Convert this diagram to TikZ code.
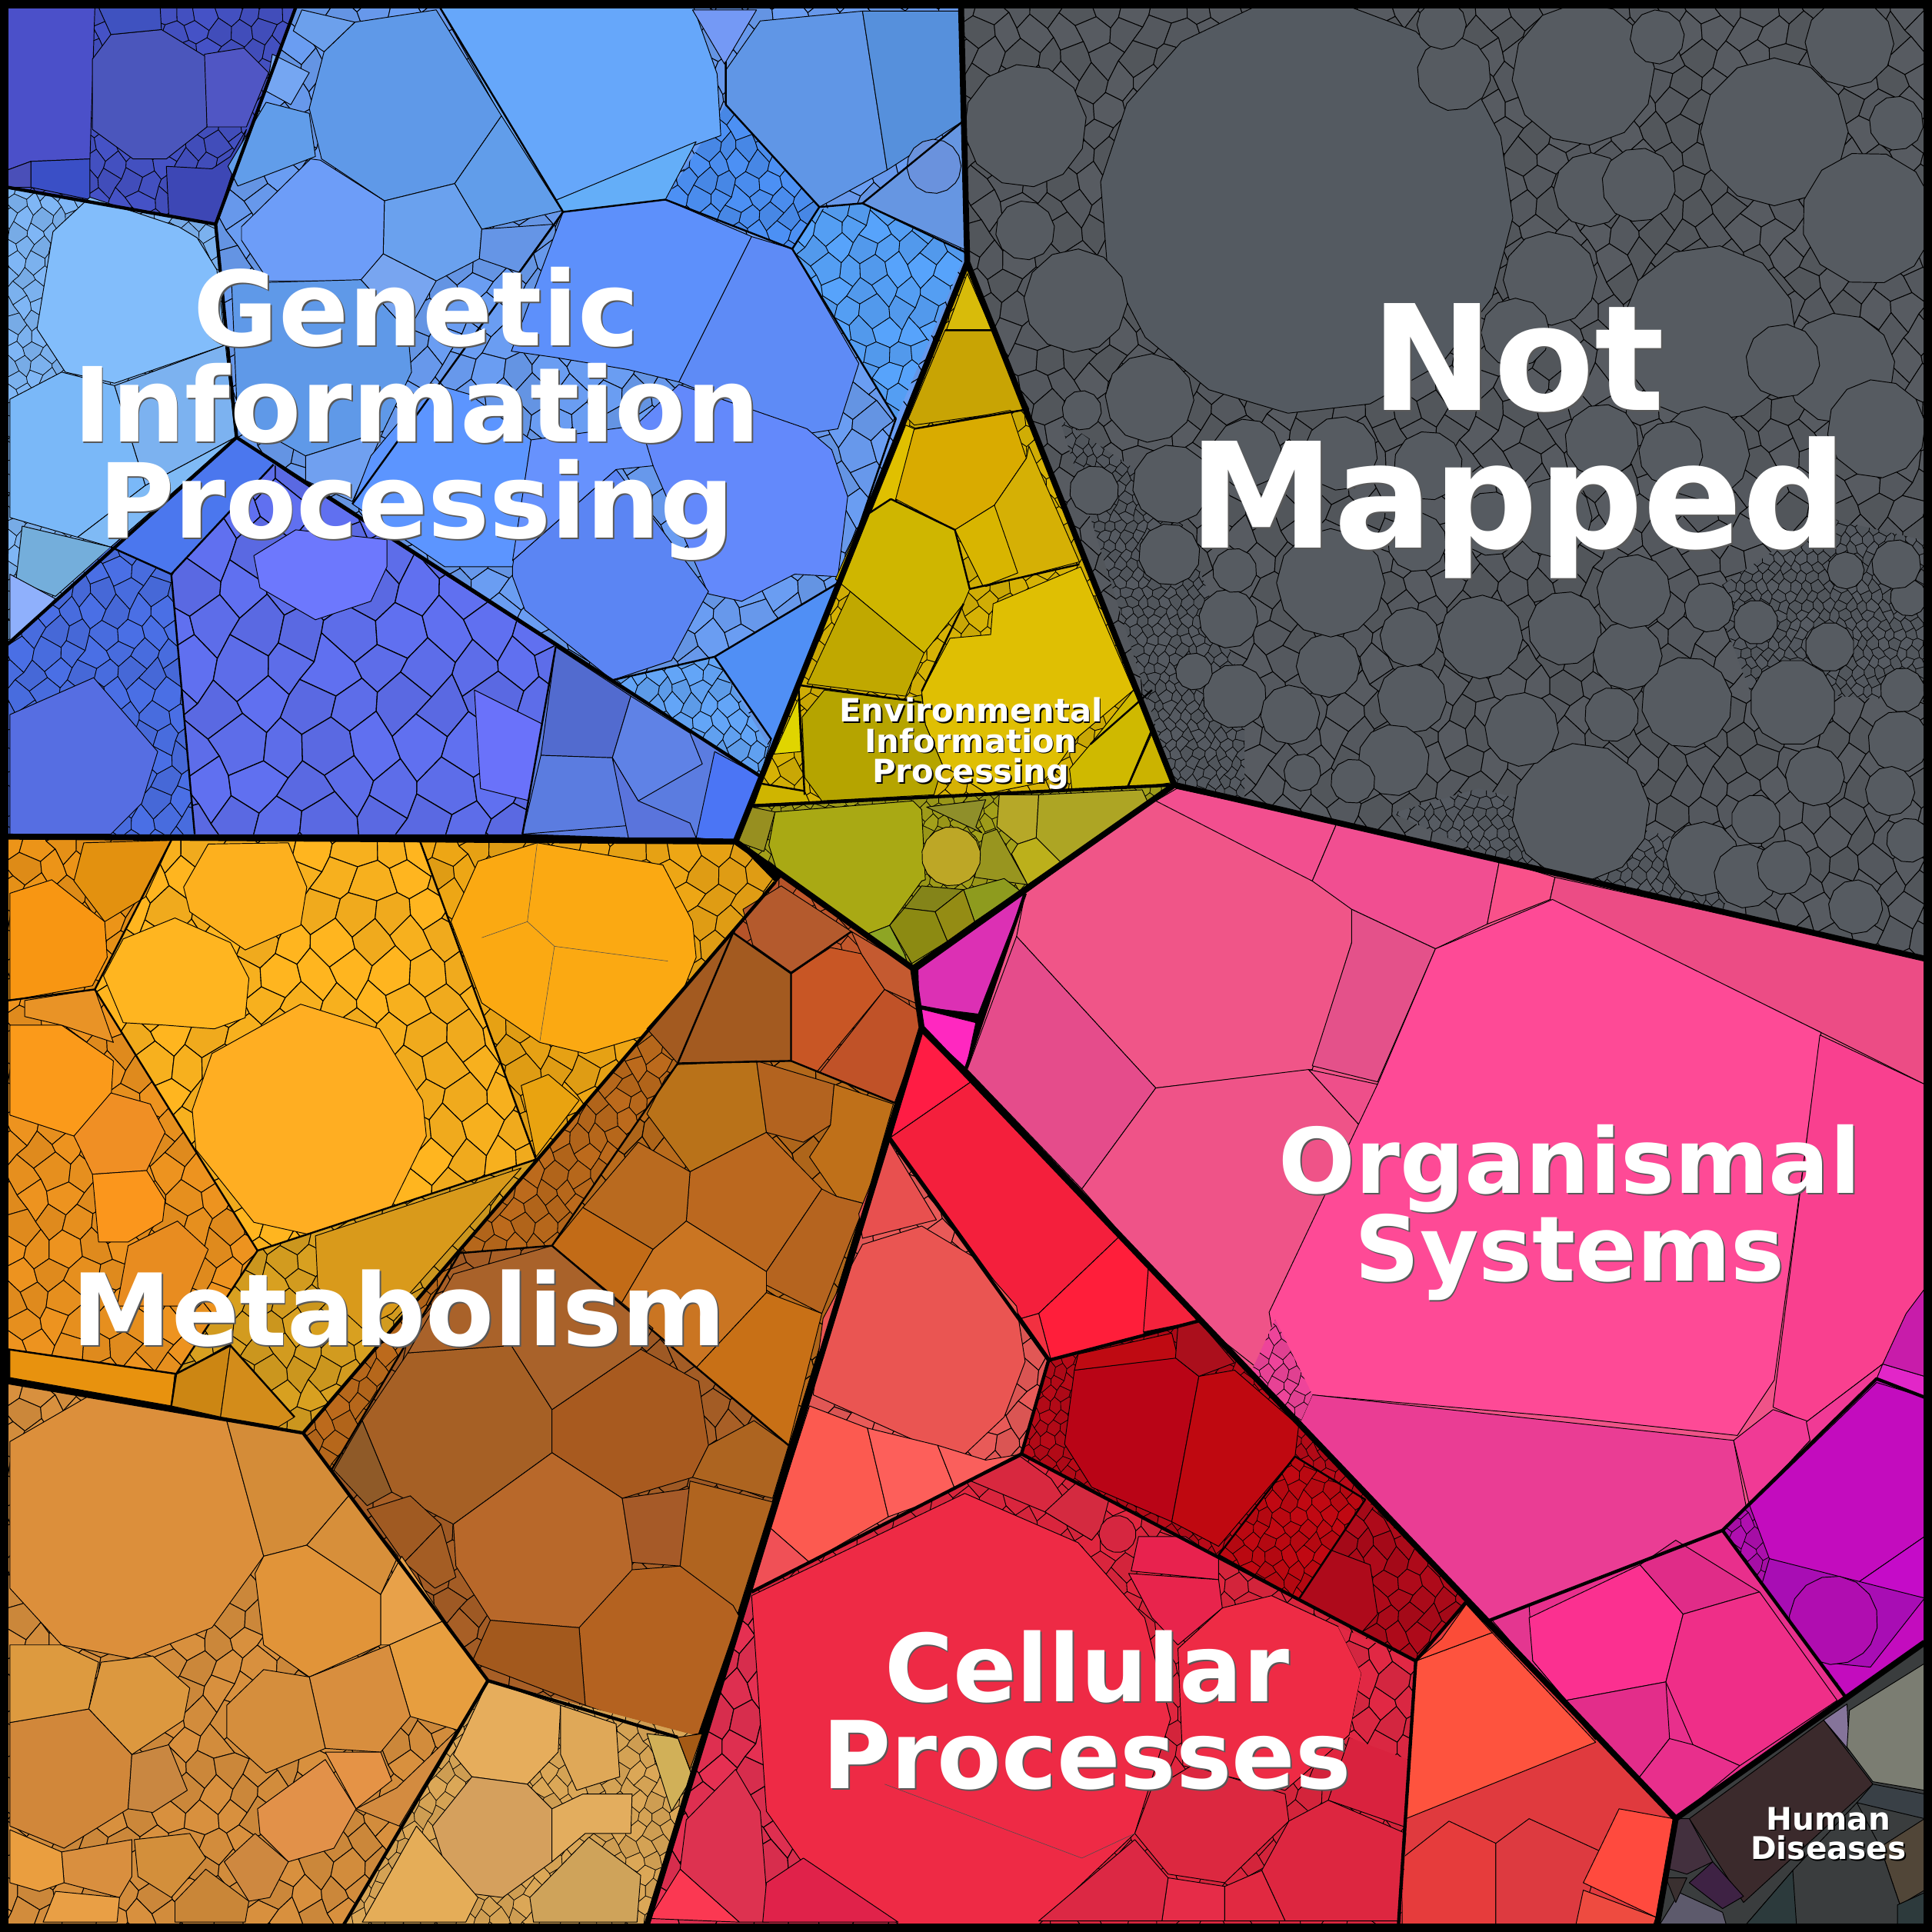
\documentclass[tikz,border=0pt]{standalone}
\usepackage{fontspec}
\setmainfont{DejaVu Sans}
\definecolor{notgrey}{HTML}{565B61}
\newcommand\cell[2]{\definecolor{cc}{HTML}{#1}\filldraw[cell,fill=cc] #2 -- cycle;}
\newcommand\blob[4]{\definecolor{cc}{HTML}{#4}\filldraw[cell,fill=cc] plot[domain=0:345,samples=16,variable=\t] ({#1+#3*cos(\t+#1)},{#2+#3*sin(\t+#1)}) -- cycle;}
\newcount\fr \newcount\fk \newcount\fa \newcount\fb \newcount\fc \newcount\frn \newcount\ncols \newcount\nrows
\newcount\fwu \newcount\fhu \newcount\fxu \newcount\fyu
\def\hs#1{\numexpr(#1)-101*((#1)/101)\relax}
\def\fv#1#2{\the\numexpr\fxu+\fwu*#1+\fwu*\hs{#1*#1*173+#2*#2*97+#1*#2*61+#1*37+#2*89}/130\relax\space\the\numexpr\fyu+\fhu*#2+\fhu*\ifodd\numexpr#1+#2\relax-25\else25\fi/100+\fhu*\hs{#1*#1*71+#2*#2*193+#1*#2*43+#1*83+#2*59}/300\relax}
\def\rgop#1,#2,#3;{#1 #2 #3 rg}
\newcommand\setop[2]{\extractcolorspecs{#2}{\mdl}{\spc}\convertcolorspec{\mdl}{\spc}{rgb}\tmprgb\edef#1{\expandafter\rgop\tmprgb;}}
\makeatletter
\def\foamhex{\fa=\numexpr2*\fk+\ifodd\fr 1\else0\fi\relax
  \fb=\numexpr\fa+1\relax\fc=\numexpr\fa+2\relax
  \edef\hexops{\noexpand\pgfsys@invoke{\ifnum\hs{\fk*\fk*13+\fr*29+\fk*\fr*7}<-15 \opa\else\ifnum\hs{\fk*\fk*13+\fr*29+\fk*\fr*7}<15 \opb\else\opc\fi\fi\space\fv{\fa}{\fr} m \fv{\fb}{\fr} l \fv{\fc}{\fr} l \fv{\fc}{\frn} l \fv{\fb}{\frn} l \fv{\fa}{\frn} l b}}\hexops}
\def\colloop{\ifnum\fk<\ncols\foamhex\advance\fk by 1 \expandafter\colloop\fi}
\def\rowloop{\ifnum\fr<\nrows\fk=0 \frn=\numexpr\fr+1\relax\colloop\advance\fr by 1 \expandafter\rowloop\fi}
\newcommand\foam[7]{\definecolor{fcol}{HTML}{#1}
  \colorlet{fta}{fcol!94!black}\colorlet{ftb}{fcol!97!black}
  \setop\opa{fta}\setop\opb{ftb}\setop\opc{fcol}
  \begin{scope}
    \clip #7 -- cycle;
    \fill[fcol] (#3,#4) rectangle (#5,#6);
    \fwu=\numexpr#2*5\relax\fhu=\numexpr#2*85/10\relax
    \fxu=\numexpr(#3-#2)*10\relax\fyu=\numexpr(#4-#2)*10\relax
    \ncols=\numexpr(#5-#3)/#2+3\relax\nrows=\numexpr(#6-#4)*100/(85*#2)+3\relax
    \edef\foamstart{\noexpand\pgfsys@invoke{q .099626 0 0 -.099626 0 0 cm \the\numexpr(#2+12)/6\relax\space w 1 j 0 G}}\foamstart
    \fr=0 \rowloop
    \pgfsys@invoke{Q}
  \end{scope}}
\makeatother
\tikzset{
  cell/.style={draw=black,line width=.6pt,line join=round},
  hair/.style={draw=black!70,line width=.35pt},
  wall/.style={draw=black,line width=4.8pt,line join=miter},
  midwall/.style={draw=black,line width=2.7pt,line join=round},
  subwall/.style={draw=black,line width=1.5pt,line join=round},
  lab/.style={text=white,inner sep=0pt,align=center},
  labshadow/.style={text=black!65,inner sep=0pt,align=center},
}
\begin{document}
\begin{tikzpicture}[x=1pt,y=-1pt]
\useasboundingbox (0,0) rectangle (1568,1568);
\fill[black] (0,0) rectangle (1568,1568);

\foam{575B61}{24}{780}{0}{1568}{782}{(780,0)--(1568,0)--(1568,782)--(953,637)--(785,213)}
\foam{555A61}{9}{860}{340}{1010}{660}{(860,340)--(950,400)--(1010,560)--(1010,660)--(953,637)}
\foam{565B62}{9}{1390}{420}{1568}{570}{(1390,480)--(1480,420)--(1568,440)--(1568,570)--(1420,560)}
\foam{565B62}{10}{1130}{640}{1400}{745}{(1130,660)--(1200,640)--(1400,690)--(1400,745)--(1220,700)}
\blob{1060}{168}{168}{545A61}
\foreach \bx/\by/\br in {1285/60/58,1440/107/60,1516/177/54,1501/35/36,1387/271/72,1493/299/45,832/102/50,1291/154/30,1258/226/38,873/244/42,933/323/36,832/187/24,1283/659/56,1382/697/30,1455/570/35,1369/570/37,1473/630/24,1308/580/22,1235/592/30,1202/517/34,1270/510/30,1321/532/28,1146/567/28,1131/617/29,1002/565/26,1047/580/24,1078/540/26,1080/473/44,997/502/24,1002/463/18,949/450/25,888/398/20,878/333/16,1144/517/24,1326/480/30,1387/493/20,1425/505/18,1485/525/20,1544/560/18,1549/485/15,1498/463/15,1541/602/25,1425/665/20,1417/711/26,1506/736/22,1549/682/18,1448/704/22,1534/642/20,1098/634/18,1057/627/15,969/545/15,1447/293/30,1382/368/38,1523/348/40,1356/368/26,1300/358/30,1159/378/28,1088/368/30,1012/368/28,951/393/32,1539/458/20,1180/60/30,1230/270/28,1170/20/20,1330/150/30,1345/30/22,1539/100/22,1260/420/32,1210/425/26,1150/440/24}{
  \filldraw[cell,fill=notgrey] plot[domain=0:330,samples=12,variable=\t] ({\bx+\br*cos(\t+\bx)},{\by+\br*sin(\t+\bx)}) -- cycle;
}

\foam{4552C6}{18}{6}{6}{240}{185}{(6,6)--(240,6)--(175,182)--(6,152)}
\cell{4B50C9}{(6,6)--(77,6)--(73,129)--(25,131)--(6,138)}
\cell{3A4FC6}{(25,131)--(73,129)--(73,162)--(25,152)}
\cell{4A4FB8}{(6,138)--(25,131)--(25,152)--(6,152)}
\cell{4B56BC}{(75,48)--(90,28)--(131,24)--(167,46)--(168,103)--(135,129)--(108,129)--(75,105)}
\cell{5056C4}{(166,44)--(198,39)--(218,59)--(200,103)--(168,103)}
\cell{3F52C0}{(80,6)--(130,6)--(131,24)--(90,28)}
\cell{3D47B5}{(135,135)--(172,137)--(187,127)--(200,105)--(175,182)--(137,175)}

\foam{7FB6F5}{14}{6}{150}{195}{530}{(6,152)--(175,182)--(192,355)--(6,523)}
\cell{82BDFB}{(43,188)--(73,160)--(145,184)--(160,193)--(176,219)--(183,280)--(93,311)--(53,302)--(30,267)}
\cell{7AB8F8}{(8,324)--(50,302)--(93,313)--(118,394)--(63,436)--(8,420)}
\cell{7CB2F0}{(93,313)--(183,280)--(191,355)--(118,394)}
\cell{7FBAF5}{(118,394)--(191,355)--(90,444)--(63,436)}
\cell{74AEDB}{(18,427)--(90,444)--(45,484)--(13,471)}
\cell{8FB0FC}{(8,466)--(45,486)--(8,525)}

\foam{6A9DF2}{26}{175}{6}{785}{640}{(175,182)--(240,6)--(780,6)--(785,213)--(617,630)--(192,355)}
\foam{4C90F4}{17}{540}{85}{670}{205}{(589,85)--(665,168)--(643,202)--(540,162)}
\foam{57A3FB}{20}{640}{95}{785}{345}{(665,170)--(700,165)--(784,205)--(727,340)--(643,202)}
\foam{63A5F7}{15}{495}{530}{630}{635}{(497,552)--(580,533)--(625,608)--(617,630)}
\cell{66A7FA}{(357,6)--(563,6)--(582,60)--(585,110)--(563,118)--(450,163)--(407,95)}
\cell{64AEF8}{(450,163)--(565,115)--(540,162)--(457,172)}
\cell{5F99E8}{(288,18)--(354,8)--(407,94)--(369,149)--(312,163)--(261,129)--(251,88)--(263,42)}
\cell{6CA0EC}{(245,8)--(288,18)--(263,42)--(238,25)}
\cell{619DEA}{(369,149)--(407,94)--(456,171)--(391,186)}
\cell{6AA1EE}{(312,163)--(369,149)--(391,186)--(389,210)--(354,228)--(311,206)}
\cell{6D9DF8}{(196,184)--(252,129)--(260,130)--(312,163)--(311,206)--(293,228)--(218,228)--(196,195)}
\cell{6595E6}{(391,186)--(449,182)--(421,221)--(389,210)}
\cell{619DEA}{(216,83)--(251,92)--(256,127)--(193,151)--(185,135)}
\cell{75A6F2}{(221,44)--(251,59)--(236,85)--(216,74)}
\cell{5F99E8}{(188,230)--(293,227)--(331,269)--(334,302)--(311,350)--(248,370)--(221,355)--(193,346)}
\cell{78A5F0}{(293,227)--(311,206)--(354,228)--(331,269)}
\cell{70A0F0}{(248,370)--(311,350)--(286,407)--(248,390)}
\cell{6096E6}{(589,57)--(617,17)--(700,9)--(720,138)--(665,168)--(589,85)}
\cell{5690DC}{(700,9)--(780,9)--(782,98)--(720,138)}
\cell{7499F5}{(562,8)--(614,8)--(588,52)}
\cell{6696E2}{(700,165)--(782,98)--(784,203)}
\blob{758}{135}{22}{6A92DD}
\cell{5D90FB}{(457,172)--(540,162)--(610,192)--(551,310)--(510,300)--(450,290)--(415,285)}
\cell{5E8BF6}{(610,192)--(643,202)--(697,295)--(680,348)--(655,352)--(551,310)}
\cell{6389FB}{(655,348)--(675,365)--(688,403)--(680,468)--(645,466)--(602,488)--(575,482)--(530,378)--(516,345)--(551,312)}
\cell{5B85F3}{(416,455)--(500,381)--(575,480)--(562,504)--(545,536)--(497,552)--(426,495)--(416,468)}
\cell{5C95FF}{(350,311)--(301,370)--(286,409)--(361,460)--(416,460)--(431,357)--(381,320)}
\cell{6792FD}{(431,357)--(520,345)--(530,378)--(500,381)--(416,455)}
\cell{508FF5}{(682,472)--(580,533)--(626,600)--(617,630)}

\foam{4A6FE5}{20}{6}{440}{165}{680}{(6,523)--(90,444)--(139,466)--(158,677)--(6,677)}
\cell{566EE2}{(8,580)--(76,550)--(128,610)--(115,652)--(90,677)--(8,677)}
\cell{4B77EE}{(192,355)--(250,395)--(139,466)--(90,444)}
\foam{6070F0}{38}{135}{370}{455}{680}{(139,466)--(222,377)--(451,525)--(424,677)--(158,677)}
\cell{6D78FD}{(206,451)--(240,430)--(314,438)--(314,460)--(301,488)--(256,503)--(211,477)}
\cell{6A72FA}{(385,560)--(445,590)--(430,650)--(390,640)}
\cell{5B7CE0}{(451,525)--(617,630)--(597,683)--(424,677)}
\cell{526BCF}{(451,525)--(512,565)--(497,615)--(439,613)}
\cell{5B7CE0}{(439,613)--(497,615)--(510,670)--(424,677)}
\cell{5F82E6}{(512,565)--(560,595)--(570,620)--(518,650)--(497,615)}
\cell{5A74DC}{(497,615)--(518,650)--(560,668)--(565,680)--(510,680)}
\cell{4B75F5}{(580,610)--(617,630)--(597,683)--(565,680)}

\foam{D6B205}{16}{610}{213}{955}{655}{(785,213)--(953,637)--(611,654)}
\cell{D8BB0A}{(785,222)--(805,268)--(768,268)}
\cell{C8A404}{(767,268)--(805,268)--(835,332)--(742,345)--(737,340)}
\cell{D9AB00}{(742,348)--(820,333)--(833,372)--(807,410)--(775,430)--(723,403)}
\cell{D5B005}{(807,410)--(833,372)--(835,362)--(876,456)--(800,476)--(787,433)}
\cell{D8B500}{(775,430)--(807,410)--(826,465)--(798,476)}
\cell{E0C000}{(735,345)--(742,348)--(723,420)--(705,420)}
\cell{CFB600}{(700,420)--(723,405)--(775,430)--(787,478)--(782,490)--(750,530)--(690,480)--(678,470)}
\cell{C0A800}{(655,555)--(690,480)--(750,530)--(735,565)}
\cell{DFBF03}{(771,518)--(804,515)--(806,490)--(877,460)--(920,560)--(875,598)--(860,619)--(846,635)--(801,644)--(765,621)--(751,588)--(748,561)}
\cell{B5A400}{(651,582)--(669,560)--(730,568)--(748,564)--(751,588)--(765,621)--(758,645)--(667,650)--(653,631)}
\cell{E0D500}{(648,567)--(650,610)--(628,612)}
\cell{CFB500}{(618,636)--(653,642)--(657,651)--(612,653)}
\cell{CFB900}{(920,560)--(935,592)--(915,639)--(870,641)--(868,624)--(885,604)}
\cell{CBB300}{(935,595)--(953,635)--(915,640)}

\foam{A3A01A}{11}{597}{637}{955}{790}{(611,654)--(953,637)--(741,786)--(597,683)}
\cell{A9A914}{(629,659)--(741,650)--(748,657)--(751,714)--(748,715)--(722,751)--(704,758)--(630,705)--(624,686)}
\cell{978F20}{(610,655)--(629,659)--(620,691)--(598,683)}
\cell{98951F}{(809,673)--(834,718)--(791,712)--(798,677)}
\cell{8F8F2A}{(752,655)--(800,649)--(792,671)--(797,676)}
\cell{B6A828}{(811,645)--(843,645)--(841,680)--(826,685)--(809,671)}
\cell{ADA524}{(843,645)--(927,641)--(932,652)--(861,700)--(841,680)}
\cell{BCB01B}{(826,685)--(841,680)--(861,700)--(834,718)--(821,693)}
\cell{8E9B1E}{(782,722)--(815,713)--(828,723)--(791,748)}
\cell{848419}{(748,719)--(782,722)--(759,740)--(734,737)}
\cell{8C8A12}{(722,751)--(734,737)--(759,740)--(769,764)--(740,782)}
\cell{948C14}{(759,740)--(782,722)--(791,748)--(769,764)}
\cell{8EA524}{(704,758)--(722,751)--(734,774)--(736,780)}
\blob{772}{695}{24}{BDA726}

\cell{DC30B4}{(745,787)--(832,725)--(794,823)--(746,817)}
\cell{FF28C0}{(748,819)--(792,830)--(784,867)--(748,834)}

\foam{FFB51F}{30}{77}{680}{435}{1015}{(139,682)--(341,683)--(435,941)--(209,1015)--(77,803)}
\foam{EDA615}{24}{341}{683}{632}{945}{(341,683)--(597,683)--(629,716)--(435,941)}
\foam{EC9418}{24}{6}{679}{139}{812}{(6,679)--(139,682)--(77,803)--(6,812)}
\foam{ED931F}{24}{6}{803}{209}{1115}{(6,812)--(77,803)--(209,1015)--(143,1115)--(6,1095)}
\cell{FFAE22}{(156,901)--(172,855)--(244,815)--(308,835)--(343,893)--(346,922)--(318,979)--(256,1003)--(206,992)--(159,933)}
\cell{FFB520}{(84,792)--(100,762)--(142,745)--(187,765)--(202,794)--(199,826)--(174,835)--(134,832)--(100,830)}
\cell{FDB01E}{(149,720)--(169,685)--(234,684)--(249,720)--(244,751)--(199,771)--(154,740)}
\cell{FBA912}{(366,748)--(388,699)--(436,684)--(538,702)--(562,748)--(565,777)--(542,835)--(475,855)--(438,846)--(391,814)}
\draw[hair] (436,684)--(428,748)--(391,761) (428,748)--(450,768)--(542,780) (450,768)--(438,846);
\cell{E9A310}{(423,881)--(445,872)--(470,893)--(435,939)}
\cell{F89612}{(8,725)--(42,714)--(85,748)--(87,777)--(75,800)--(8,812)}
\cell{FB9A1A}{(8,832)--(50,832)--(92,861)--(90,893)--(60,922)--(8,905)}
\cell{E99326}{(20,812)--(77,803)--(92,846)--(50,832)--(20,825)}
\cell{F08F24}{(60,922)--(90,887)--(122,896)--(134,919)--(119,950)--(75,953)}
\cell{FB961C}{(75,953)--(119,950)--(134,974)--(132,991)--(104,1008)--(80,1008)}
\cell{E88C20}{(104,1011)--(144,991)--(169,1014)--(150,1060)--(95,1060)}
\cell{E3910F}{(68,684)--(139,682)--(118,728)--(85,748)--(60,715)}
\foam{D8A020}{22}{143}{941}{435}{1165}{(209,1015)--(435,941)--(246,1163)--(226,1158)--(187,1090)--(143,1115)}
\cell{D99A1B}{(256,1003)--(423,948)--(318,1066)--(294,1078)--(258,1045)}
\cell{E8920E}{(8,1095)--(142,1115)--(139,1141)--(8,1118)}
\cell{CC8613}{(142,1115)--(187,1092)--(179,1150)--(139,1141)}
\cell{D38C1A}{(187,1092)--(239,1150)--(226,1158)--(179,1150)}

\foam{BC6A1C}{17}{247}{716}{630}{1195}{(595,757)--(550,863)--(448,1011)--(373,1017)--(269,1193)--(247,1163)--(629,716)}
\foam{C2582C}{16}{595}{712}{748}{895}{(634,712)--(741,786)--(748,834)--(726,895)--(642,861)--(642,790)--(595,757)}
\cell{A35A20}{(550,863)--(642,861)--(642,790)--(595,757)--(525,835)}
\cell{B45A2D}{(603,738)--(634,719)--(691,756)--(642,789)--(611,767)}
\cell{C85625}{(642,790)--(674,769)--(699,774)--(718,803)--(662,871)--(642,861)}
\cell{C05228}{(718,803)--(745,820)--(748,834)--(726,895)--(664,872)}
\cell{C45A30}{(691,756)--(741,786)--(745,815)--(718,803)--(699,774)}
\foam{B96B1C}{28}{448}{861}{728}{1175}{(550,863)--(642,861)--(726,895)--(640,1173)--(448,1011)}
\cell{B97219}{(540,875)--(550,864)--(614,861)--(622,919)--(560,951)--(525,904)}
\cell{B3631F}{(614,861)--(677,880)--(674,913)--(652,927)--(622,919)}
\cell{BF7019}{(677,880)--(725,896)--(702,977)--(679,971)--(657,939)--(674,913)}
\cell{BB681F}{(560,951)--(622,919)--(667,965)--(622,1032)--(557,991)}
\cell{B5641F}{(679,971)--(702,977)--(667,1066)--(622,1043)--(622,1032)--(667,965)}
\cell{B96A1F}{(518,927)--(560,951)--(557,991)--(530,1014)--(473,980)}
\cell{C26B17}{(473,980)--(530,1014)--(503,1060)--(448,1011)}
\cell{CA7522}{(530,1014)--(557,991)--(622,1032)--(622,1049)--(565,1110)--(503,1060)}
\cell{C87016}{(622,1049)--(667,1066)--(640,1173)--(565,1110)}
\foam{A85F26}{24}{269}{1011}{645}{1412}{(373,1017)--(448,1011)--(640,1173)--(605,1290)--(550,1410)--(396,1364)--(269,1193)}
\cell{A66025}{(294,1153)--(331,1098)--(415,1092)--(448,1144)--(448,1179)--(368,1237)--(318,1211)}
\cell{A85A1F}{(448,1144)--(520,1095)--(567,1121)--(575,1173)--(562,1199)--(505,1216)--(448,1179)}
\cell{B8682A}{(368,1237)--(448,1179)--(505,1216)--(513,1268)--(513,1277)--(470,1321)--(398,1315)--(370,1271)}
\cell{A65A28}{(505,1216)--(560,1208)--(552,1271)--(513,1268)}
\cell{B0641F}{(560,1202)--(627,1219)--(597,1315)--(552,1271)}
\cell{AD6420}{(575,1173)--(612,1153)--(640,1173)--(627,1216)--(562,1199)}
\cell{B46220}{(513,1274)--(552,1271)--(595,1303)--(600,1312)--(567,1407)--(550,1410)--(475,1384)--(470,1321)}
\cell{A3591D}{(398,1315)--(470,1321)--(475,1384)--(443,1372)--(383,1349)}
\cell{A9622A}{(331,1098)--(368,1034)--(448,1011)--(530,1078)--(520,1095)--(448,1144)--(415,1092)}
\cell{8F5A28}{(294,1153)--(318,1211)--(298,1222)--(271,1193)}
\cell{A05A22}{(298,1225)--(333,1214)--(358,1237)--(328,1268)}
\cell{A45D24}{(328,1268)--(358,1237)--(370,1280)--(353,1289)}

\foam{D8903E}{24}{6}{1122}{396}{1568}{(6,1122)--(247,1163)--(396,1364)--(279,1562)--(6,1562)}
\cell{DC8F3B}{(8,1170)--(72,1133)--(184,1153)--(214,1263)--(172,1321)--(107,1346)--(50,1335)--(8,1289)}
\cell{D48C38}{(184,1153)--(247,1163)--(283,1214)--(249,1254)--(214,1263)}
\cell{E19439}{(214,1263)--(249,1254)--(309,1294)--(309,1335)--(251,1361)--(214,1335)--(207,1277)}
\cell{D78F3A}{(249,1254)--(283,1214)--(323,1263)--(309,1294)}
\cell{E8A149}{(309,1294)--(326,1263)--(361,1315)--(316,1335)--(309,1335)}
\cell{E79E3F}{(316,1335)--(361,1315)--(396,1364)--(371,1404)--(333,1393)}
\cell{D88E3E}{(251,1361)--(316,1335)--(333,1393)--(309,1422)--(264,1419)}
\cell{D58E3D}{(184,1384)--(214,1355)--(251,1361)--(264,1419)--(216,1439)--(184,1410)}
\cell{DC983F}{(72,1387)--(82,1349)--(124,1344)--(154,1370)--(149,1396)--(107,1424)}
\cell{D1873A}{(8,1398)--(72,1387)--(107,1424)--(104,1468)--(52,1500)--(8,1482)}
\cell{DD9A3F}{(8,1335)--(50,1335)--(80,1349)--(72,1387)--(8,1398)}
\cell{E29149}{(209,1468)--(264,1428)--(289,1468)--(271,1500)--(234,1511)--(211,1488)}
\cell{C98741}{(107,1424)--(137,1416)--(152,1453)--(124,1471)--(104,1468)}
\cell{E59346}{(264,1422)--(309,1422)--(318,1445)--(289,1468)}
\cell{D38B40}{(322,1451)--(371,1404)--(324,1482)--(289,1468)}
\cell{D38F3B}{(109,1493)--(154,1488)--(167,1508)--(139,1540)--(112,1523)}
\cell{CE8840}{(182,1511)--(207,1488)--(234,1511)--(219,1540)--(202,1543)}
\cell{C98638}{(142,1543)--(167,1517)--(202,1543)--(199,1560)--(142,1560)}
\cell{D98F3F}{(50,1503)--(107,1493)--(107,1523)--(97,1540)--(52,1528)}
\cell{EA9E3F}{(8,1485)--(50,1503)--(52,1528)--(32,1535)--(8,1528)}
\cell{E99F45}{(45,1535)--(97,1540)--(95,1560)--(35,1560)}

\foam{DBA757}{14}{279}{1364}{570}{1568}{(396,1364)--(570,1410)--(525,1562)--(279,1562)}
\cell{E6AD5C}{(368,1424)--(396,1364)--(455,1384)--(453,1422)--(428,1448)--(383,1442)}
\cell{D5A05D}{(351,1482)--(383,1442)--(428,1448)--(448,1468)--(448,1511)--(408,1540)--(368,1535)}
\cell{E5AD58}{(294,1560)--(338,1482)--(388,1540)--(378,1560)}
\cell{CFA35A}{(430,1540)--(478,1491)--(520,1522)--(517,1560)--(433,1560)}
\cell{DFA858}{(455,1384)--(500,1399)--(503,1442)--(468,1453)--(455,1424)}
\cell{E3AD5E}{(448,1468)--(473,1456)--(513,1456)--(512,1488)--(475,1488)--(448,1511)}
\cell{D1B058}{(525,1407)--(550,1410)--(562,1442)--(545,1470)}
\cell{A55A15}{(550,1410)--(570,1407)--(560,1436)}

\cell{FF1C44}{(748,838)--(788,878)--(723,923)}
\cell{F41F3C}{(788,878)--(908,1004)--(843,1066)--(829,1070)--(723,923)}
\cell{FF1E3A}{(908,1004)--(932,1029)--(928,1086)--(875,1100)--(853,1104)--(843,1066)}
\cell{F4223C}{(932,1029)--(973,1072)--(928,1081)}
\cell{F23040}{(829,1070)--(843,1066)--(853,1104)}
\foam{E85A58}{22}{610}{923}{855}{1295}{(721,923)--(851,1104)--(829,1180)--(610,1292)}
\cell{E8504F}{(721,925)--(760,990)--(700,1005)--(697,985)}
\cell{EA5552}{(660,1132)--(668,1070)--(700,1010)--(748,995)--(790,1020)--(825,1060)--(832,1105)--(815,1150)--(778,1185)}
\cell{FC5A50}{(657,1141)--(704,1159)--(721,1231)--(657,1268)--(625,1240)}
\cell{FD5F5A}{(704,1159)--(761,1173)--(776,1211)--(721,1231)}
\cell{FA5F5C}{(761,1173)--(800,1185)--(830,1180)--(776,1211)}
\cell{F05056}{(625,1240)--(657,1268)--(610,1292)}
\foam{B80A18}{11}{829}{1072}{1195}{1350}{(851,1104)--(973,1072)--(1190,1300)--(1149,1348)--(829,1180)}
\cell{B90416}{(872,1112)--(954,1102)--(973,1117)--(951,1235)--(886,1207)--(864,1172)}
\cell{BF0810}{(973,1117)--(1002,1112)--(1054,1157)--(1051,1182)--(989,1255)--(951,1235)}
\cell{BF0A12}{(875,1099)--(951,1082)--(956,1102)--(872,1112)}
\cell{AB0F1C}{(956,1076)--(973,1072)--(1002,1106)--(973,1117)--(954,1102)}
\foam{C00812}{13}{989}{1182}{1108}{1298}{(1051,1182)--(1108,1217)--(1054,1298)--(989,1262)}
\foam{AE0A1A}{18}{1054}{1217}{1190}{1348}{(1108,1217)--(1190,1300)--(1149,1348)--(1054,1298)}
\cell{AE0A1B}{(1054,1298)--(1080,1258)--(1112,1270)--(1118,1310)--(1105,1325)}

\cell{E03A3E}{(1149,1348)--(1190,1302)--(1360,1476)--(1345,1562)--(1135,1562)}
\cell{FE533E}{(1149,1348)--(1211,1325)--(1295,1414)--(1141,1476)}
\cell{FB4C38}{(1149,1348)--(1170,1330)--(1190,1302)--(1211,1325)}
\cell{E63C3C}{(1138,1508)--(1176,1478)--(1214,1496)--(1214,1562)--(1138,1562)}
\cell{DD3A40}{(1214,1496)--(1241,1476)--(1300,1503)--(1282,1562)--(1214,1562)}
\cell{FF4A3E}{(1314,1468)--(1358,1476)--(1344,1556)--(1285,1528)}
\cell{EE4B40}{(1285,1534)--(1344,1556)--(1342,1562)--(1279,1562)}

\foam{E0263F}{20}{525}{1180}{1150}{1568}{(610,1292)--(830,1180)--(1149,1348)--(1137,1562)--(525,1562)}
\foam{E53052}{28}{525}{1292}{730}{1568}{(610,1292)--(622,1470)--(650,1510)--(730,1562)--(525,1562)}
\cell{EE2A45}{(610,1295)--(783,1212)--(875,1252)--(929,1313)--(950,1395)--(921,1488)--(843,1562)--(730,1562)--(650,1510)--(622,1470)}
\cell{EE2B45}{(956,1338)--(992,1305)--(1032,1295)--(1086,1320)--(1105,1358)--(1095,1408)--(1043,1453)--(960,1433)}
\cell{DC2840}{(934,1453)--(967,1433)--(1043,1456)--(1046,1478)--(994,1528)--(948,1521)--(921,1488)}
\cell{DD2640}{(1046,1478)--(1078,1461)--(1141,1488)--(1135,1559)--(1043,1559)--(1024,1518)}
\cell{D9223E}{(1095,1410)--(1127,1418)--(1143,1428)--(1141,1483)--(1078,1461)}
\cell{E62C48}{(948,1524)--(994,1531)--(994,1559)--(943,1559)}
\cell{E12941}{(994,1531)--(1024,1518)--(1043,1559)--(994,1559)}
\cell{DC2844}{(921,1493)--(948,1524)--(943,1559)--(843,1559)}
\cell{D8283F}{(788,1202)--(848,1227)--(886,1250)--(853,1200)--(828,1182)}
\cell{D42A40}{(848,1227)--(875,1202)--(900,1217)--(894,1240)--(886,1250)}
\blob{907}{1245}{15}{D62640}
\cell{E8224E}{(918,1275)--(924,1247)--(962,1247)--(989,1265)--(989,1282)}
\cell{E8244C}{(916,1277)--(989,1282)--(992,1305)--(956,1335)--(935,1313)}
\foam{E12844}{22}{1086}{1320}{1150}{1430}{(1086,1320)--(1149,1348)--(1143,1428)--(1095,1410)--(1105,1358)}
\cell{DD3250}{(557,1477)--(597,1436)--(617,1470)--(624,1560)--(600,1560)--(552,1517)}
\cell{FB3852}{(527,1557)--(552,1517)--(600,1560)}
\cell{E0224A}{(652,1508)--(729,1560)--(619,1560)--(622,1528)}
\draw[hair] (718,1448)--(878,1508) (921,1488)--(878,1508);

\cell{EF5388}{(953,637)--(1562,778)--(1562,1333)--(1360,1476)--(784,867)--(832,725)}
\cell{F05588}{(825,760)--(832,725)--(953,637)--(1080,720)--(1098,738)--(1097,765)--(1065,868)--(938,883)}
\cell{F24F8F}{(955,640)--(1085,668)--(1065,715)--(938,650)}
\cell{F14E91}{(1085,668)--(1217,698)--(1207,750)--(1165,770)--(1097,738)--(1065,715)}
\cell{F9518A}{(1217,698)--(1262,712)--(1258,730)--(1207,750)}
\cell{EC4C85}{(1262,712)--(1562,778)--(1562,880)--(1478,838)--(1258,730)}
\cell{E4518A}{(1065,865)--(1118,878)--(1165,770)--(1097,738)--(1097,765)}
\cell{E54C8B}{(825,760)--(938,883)--(878,965)--(785,868)}
\cell{EF5388}{(938,883)--(1062,868)--(1105,915)--(1020,1110)--(972,1072)--(878,965)}
\cell{EE4F8A}{(1062,868)--(1118,880)--(1105,915)}
\cell{FE4A96}{(1165,770)--(1260,730)--(1478,838)--(1440,1120)--(1410,1165)--(1270,1150)--(1063,1132)--(1035,1095)--(1030,1065)--(1118,880)}
\cell{F9408F}{(1477,840)--(1562,880)--(1562,1046)--(1528,1107)--(1466,1154)--(1439,1142)}
\cell{EA3D94}{(1065,1132)--(1407,1169)--(1417,1222)--(1398,1242)--(1209,1315)--(1054,1157)}
\cell{F03A95}{(1407,1169)--(1439,1144)--(1469,1154)--(1469,1169)--(1420,1222)}
\foam{EE449A}{12}{1016}{1071}{1066}{1158}{(1016,1112)--(1035,1071)--(1065,1132)--(1054,1157)}
\cell{F03A95}{(1466,1154)--(1528,1107)--(1523,1122)--(1420,1222)--(1469,1169)}
\cell{C30CBE}{(1398,1242)--(1523,1119)--(1562,1134)--(1562,1333)--(1499,1379)}
\foam{B00FB0}{13}{1398}{1222}{1500}{1380}{(1398,1242)--(1420,1222)--(1436,1265)--(1428,1292)--(1470,1350)--(1499,1376)}
\cell{C30CBE}{(1420,1222)--(1523,1122)--(1562,1134)--(1562,1247)--(1507,1285)--(1436,1265)}
\cell{C50BC8}{(1507,1285)--(1562,1247)--(1562,1297)}
\cell{A80DB4}{(1436,1265)--(1562,1297)--(1518,1353)--(1488,1350)--(1428,1292)}
\blob{1488}{1315}{36}{B00DB0}
\cell{E226C8}{(1523,1119)--(1528,1107)--(1562,1117)--(1562,1134)}
\cell{C81CAA}{(1528,1107)--(1547,1066)--(1562,1046)--(1562,1117)}
\cell{E82F8C}{(1209,1315)--(1398,1242)--(1499,1379)--(1360,1476)}
\cell{E43690}{(1211,1315)--(1241,1303)--(1244,1348)--(1271,1380)--(1295,1412)}
\cell{FB3090}{(1241,1313)--(1331,1270)--(1366,1310)--(1352,1365)--(1271,1380)--(1244,1348)}
\cell{E02C88}{(1331,1270)--(1360,1250)--(1428,1292)--(1366,1310)}
\cell{EF2E88}{(1366,1310)--(1428,1292)--(1491,1380)--(1412,1433)--(1374,1416)--(1352,1365)}
\cell{E32D8A}{(1271,1380)--(1352,1365)--(1355,1411)--(1330,1443)}
\cell{E82F8C}{(1330,1443)--(1355,1411)--(1374,1416)--(1412,1433)--(1360,1476)}

\cell{3A3D3E}{(1360,1476)--(1562,1333)--(1562,1562)--(1345,1562)}
\cell{3B2A2C}{(1480,1396)--(1520,1448)--(1415,1544)--(1371,1476)}
\cell{85749A}{(1480,1396)--(1499,1383)--(1501,1421)}
\cell{7B7D72}{(1501,1388)--(1562,1350)--(1562,1453)--(1520,1446)--(1499,1418)}
\cell{394046}{(1520,1448)--(1562,1456)--(1562,1476)--(1507,1463)}
\cell{514638}{(1526,1499)--(1562,1476)--(1562,1534)--(1542,1546)}
\cell{3A3D3E}{(1507,1463)--(1526,1499)--(1542,1546)--(1540,1562)--(1417,1562)--(1455,1518)}
\cell{2D3A3C}{(1540,1546)--(1562,1536)--(1562,1562)--(1540,1562)}
\cell{2C3A3C}{(1455,1518)--(1458,1562)--(1417,1562)}
\cell{43303E}{(1360,1476)--(1371,1476)--(1390,1511)--(1369,1521)--(1352,1516)}
\cell{3E2244}{(1390,1511)--(1415,1539)--(1398,1549)--(1371,1528)}
\cell{5D5A6C}{(1347,1562)--(1363,1536)--(1398,1552)--(1401,1562)}
\cell{3A3030}{(1352,1524)--(1369,1524)--(1360,1544)}

\draw[subwall] (357,6)--(457,172)--(540,162)--(643,202)--(727,340)--(682,472)--(580,533)--(497,552) (457,172)--(286,409) (589,85)--(589,50) (589,85)--(665,168)--(643,202) (665,168)--(700,165)--(784,205) (700,165)--(782,98) (580,533)--(626,600) (90,444)--(139,466)--(158,677) (139,466)--(222,377) (451,525)--(424,677);
\draw[subwall] (139,682)--(77,803)--(209,1015)--(435,941)--(341,683) (6,812)--(77,803) (143,1115)--(209,1015) (6,1095)--(143,1115)--(187,1092)--(239,1150) (143,1115)--(139,1141);
\draw[subwall] (595,757)--(550,863)--(448,1011)--(640,1173) (448,1011)--(373,1017)--(269,1193) (550,863)--(642,861)--(726,895) (642,861)--(642,790)--(595,757) (642,790)--(691,756);
\draw[subwall] (767,268)--(805,268) (742,348)--(835,332) (723,405)--(775,430)--(787,478)--(876,458) (700,420)--(723,405) (782,490)--(748,561) (648,556)--(748,570) (648,556)--(653,645) (618,636)--(653,642) (885,604)--(935,560) (935,592)--(915,639);
\draw[subwall] (1051,1182)--(1108,1217)--(1054,1298)--(989,1262)--(1051,1182);
\draw[midwall] (611,654)--(953,637) (832,725)--(784,867) (746,817)--(794,826) (240,6)--(175,182)--(6,152) (175,182)--(192,355) (6,523)--(192,355)--(617,630) (629,716)--(246,1163) (6,1122)--(246,1163)--(396,1364)--(279,1562) (396,1364)--(550,1410) (721,923)--(851,1104)--(829,1180)--(610,1292) (851,1104)--(973,1072) (829,1180)--(1149,1348)--(1190,1300) (1149,1348)--(1135,1562) (1209,1315)--(1398,1242)--(1523,1119)--(1562,1134) (1398,1242)--(1499,1379);
\draw[wall] (780,6)--(785,213)--(953,637)--(1562,778) (785,213)--(597,683)--(6,679) (597,683)--(741,786)--(953,637) (741,786)--(748,834)--(525,1562) (748,834)--(1360,1476)--(1345,1562) (1360,1476)--(1562,1333);
\draw[draw=black,line width=7pt] (3.5,3.5) rectangle (1564.5,1564.5);

\node[labshadow,font=\fontsize{119}{112}\bfseries\selectfont] (notmappedback) at (1233.2,359.2) {Not\\Mapped};
\node[lab,font=\fontsize{119}{112}\bfseries\selectfont] (notmapped) at (1232,358) {Not\\Mapped};
\node[labshadow,font=\fontsize{84}{78}\bfseries\selectfont] (geneticback) at (339.2,337.2) {Genetic\\Information\\Processing};
\node[lab,font=\fontsize{84}{78}\bfseries\selectfont] (genetic) at (338,336) {Genetic\\Information\\Processing};
\node[labshadow,font=\fontsize{81}{70}\bfseries\selectfont] (metabolismback) at (325.2,1063.2) {Metabolism};
\node[lab,font=\fontsize{81}{70}\bfseries\selectfont] (metabolism) at (324,1062) {Metabolism};
\node[labshadow,font=\fontsize{76}{70}\bfseries\selectfont] (cellularback) at (883.2,1389.2) {Cellular\\Processes};
\node[lab,font=\fontsize{76}{70}\bfseries\selectfont] (cellular) at (882,1388) {Cellular\\Processes};
\node[labshadow,font=\fontsize{73.3}{70}\bfseries\selectfont] (organismalback) at (1275.2,985.2) {Organismal\\Systems};
\node[lab,font=\fontsize{73.3}{70}\bfseries\selectfont] (organismal) at (1274,984) {Organismal\\Systems};
\node[labshadow,text=black,font=\fontsize{26}{24.5}\bfseries\selectfont] (envback) at (789,604.5) {Environmental\\Information\\Processing};
\node[lab,font=\fontsize{26}{24.5}\bfseries\selectfont] (env) at (788,603.5) {Environmental\\Information\\Processing};
\node[labshadow,text=black,font=\fontsize{25.3}{24}\bfseries\selectfont] (humanback) at (1485,1489) {Human\\Diseases};
\node[lab,font=\fontsize{25.3}{24}\bfseries\selectfont] (human) at (1484,1488) {Human\\Diseases};
\end{tikzpicture}
\end{document}
